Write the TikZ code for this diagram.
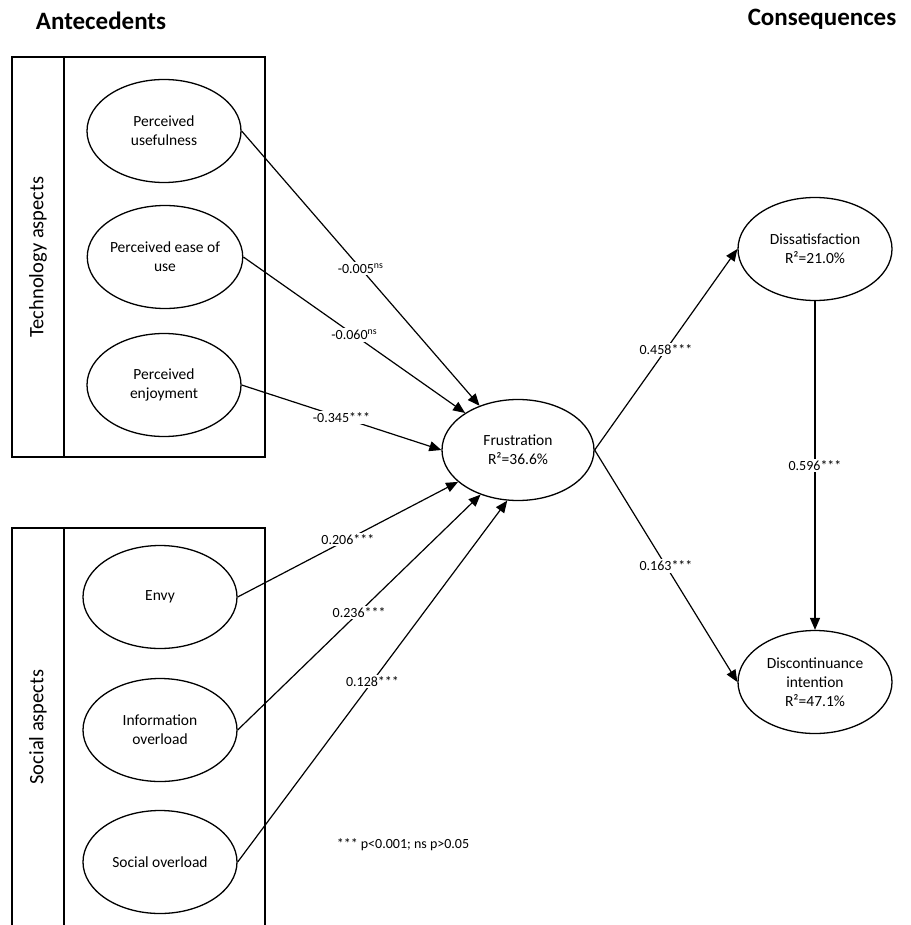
\documentclass[tikz,border=0pt]{standalone}
\usepackage{fontspec}
\setmainfont{Carlito}
\usetikzlibrary{shapes.geometric,arrows.meta}
\begin{document}
\begin{tikzpicture}[x=1pt,y=-1pt,
  construct/.style={draw, line width=1.3pt, ellipse, minimum width=154pt, minimum height=103pt, inner sep=0pt, align=center, font=\fontsize{15.5}{19}\selectfont},
  link/.style={line width=1.2pt, -{Triangle[length=12pt,width=10pt]}},
  coef/.style={fill=white, inner sep=1.5pt, font=\fontsize{14}{16}\selectfont},
  frame/.style={line width=1.2pt},
  heading/.style={font=\fontsize{25}{30}\selectfont\bfseries},
  aspect/.style={rotate=90, font=\fontsize{20.5}{24}\selectfont}
]
\useasboundingbox (0,0) rectangle (910,925);

\node[heading] (ant) at (101,21) {Antecedents};
\node[heading] (con) at (822,19) {Consequences};

\draw[frame] (12,57) rectangle (265,457);
\draw[frame] (64,57) -- (64,457);
\node[aspect] (tech) at (38,257) {Technology aspects};

\draw[frame] (12,925) -- (12,528) -- (265,528) -- (265,925);
\draw[frame] (64,528) -- (64,925);
\node[aspect] (soc) at (38,727) {Social aspects};

\node[construct] (pu) at (164,131) {Perceived\\usefulness};
\node[construct] (peu) at (165,257) {Perceived ease of\\use};
\node[construct] (pe) at (164,385) {Perceived\\enjoyment};
\node[construct] (env) at (160,597) {Envy};
\node[construct] (io) at (160,730) {Information\\overload};
\node[construct] (so) at (160,862) {Social overload};
\node[construct, minimum width=152pt, minimum height=101pt] (fr) at (518,450) {Frustration\\R²=36.6\%};
\node[construct] (ds) at (815,249) {Dissatisfaction\\R²=21.0\%};
\node[construct] (di) at (815,682) {Discontinuance\\intention\\R²=47.1\%};

\draw[link] (pu.east) -- node[coef] {-0.005\textsuperscript{ns}} (fr.131);
\draw[link] (peu.east) -- node[coef] {-0.060\textsuperscript{ns}} (fr.145);
\draw[link] (pe.east) -- node[coef] {-0.345***} (fr.180);
\draw[link] (env.east) -- node[coef] {0.206***} (fr.208);
\draw[link] (io.east) -- node[coef] {0.236***} (fr.230);
\draw[link] (so.east) -- node[coef] {0.128***} (fr.258);
\draw[link] (fr.east) -- node[coef] {0.458***} (ds.west);
\draw[link] (fr.east) -- node[coef] {0.163***} (di.west);
\draw[link] (ds.south) -- node[coef] {0.596***} (di.north);

\node[font=\fontsize{14}{16}\selectfont] (note) at (403,845) {*** p<0.001; ns p>0.05};
\end{tikzpicture}
\end{document}
